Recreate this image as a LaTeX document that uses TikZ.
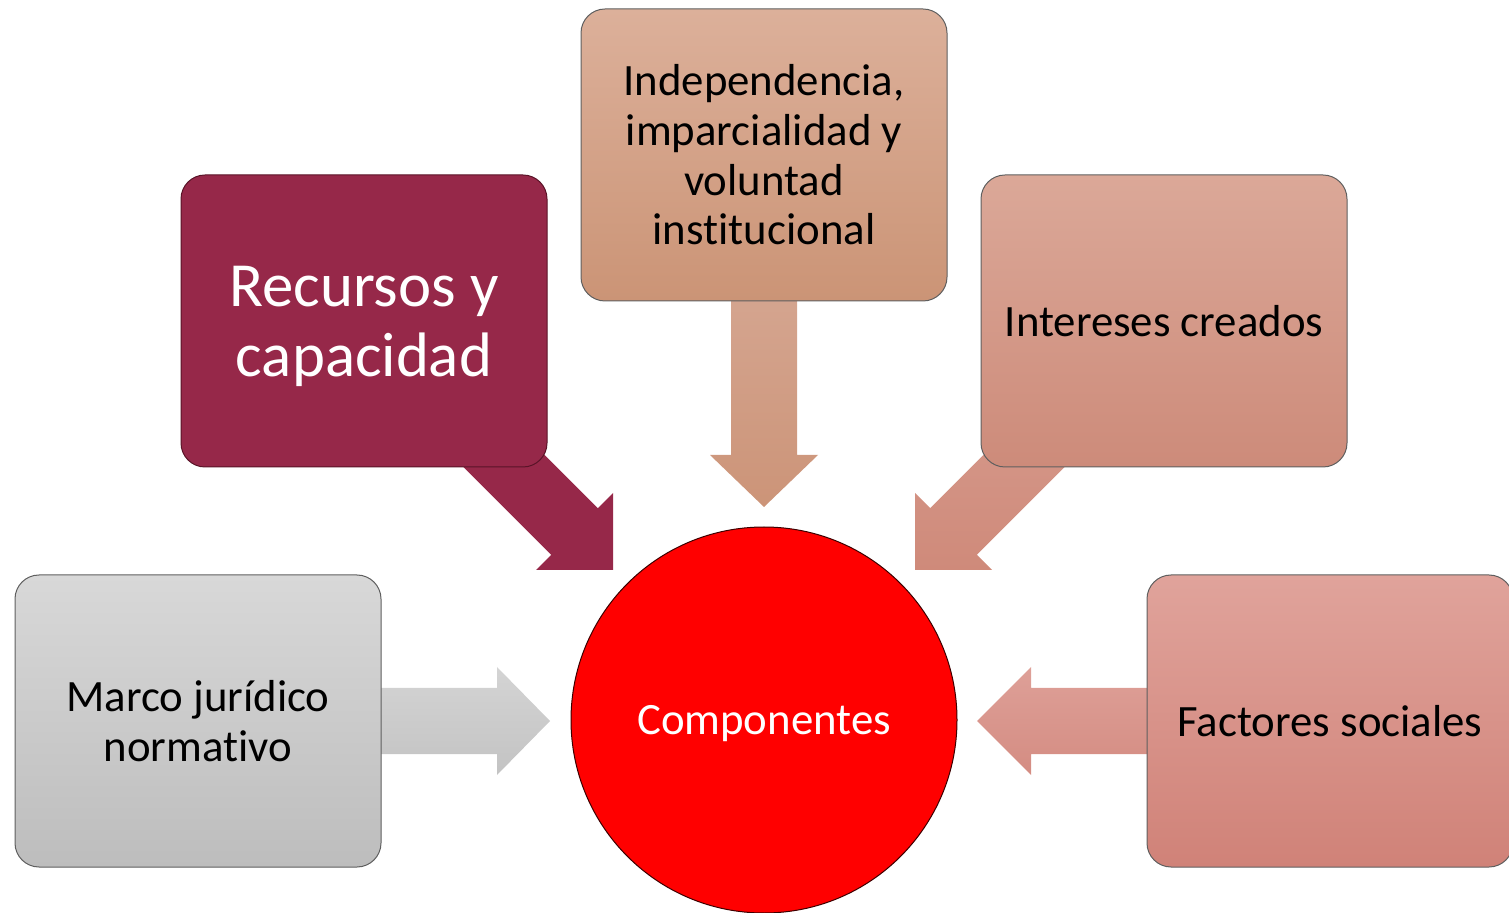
\documentclass[tikz,border=0pt]{standalone}
\usepackage{fontspec}
\setmainfont{Carlito}[RawFeature=-liga]
\begin{document}
\begin{tikzpicture}[x=0.5pt,y=-0.5pt,
  boxbase/.style={rectangle, rounded corners=12pt, minimum width=183pt, minimum height=146pt,
    inner sep=4pt, align=center, draw={rgb,255:red,95;green,95;blue,95}, line width=0.5pt,
    font=\fontsize{22.4}{24.8}\selectfont, text=black}
]
\definecolor{recC}{HTML}{962849}
\definecolor{indT}{HTML}{DCB09A}
\definecolor{indB}{HTML}{CB9476}
\definecolor{intT}{HTML}{DBA898}
\definecolor{intB}{HTML}{CD8B7A}
\definecolor{marT}{HTML}{D8D8D8}
\definecolor{marB}{HTML}{BDBDBD}
\definecolor{facT}{HTML}{E0A39B}
\definecolor{facB}{HTML}{D08278}
\useasboundingbox (0,0) rectangle (1509,913);
\begin{scope}
\clip (0,0) rectangle (1509,913);
% arrows (drawn first, behind boxes)
\coordinate (tipRec) at (613,570);
\coordinate (tipInd) at (764,507);
\coordinate (tipInt) at (915,570);
\coordinate (tipMar) at (550,721);
\coordinate (tipFac) at (977,721);
\fill[recC] (503.3,413.7) -- (597.8,508.2) -- (613,493) -- (tipRec) -- (536,570) -- (551.2,554.8) -- (456.7,460.3) -- cycle;
\shade[top color={rgb,255:red,213;green,166;blue,145}, bottom color={rgb,255:red,204;green,148;blue,120}]
  (731,280) -- (797,280) -- (797,455) -- (818,455) -- (tipInd) -- (710,455) -- (731,455) -- cycle;
\shade[top color={rgb,255:red,213;green,152;blue,138}, bottom color={rgb,255:red,207;green,138;blue,122}]
  (1024.7,413.7) -- (930.2,508.2) -- (915,493) -- (tipInt) -- (992,570) -- (976.8,554.8) -- (1071.3,460.3) -- cycle;
\shade[top color={rgb,255:red,212;green,212;blue,212}, bottom color={rgb,255:red,195;green,195;blue,195}]
  (360,688) -- (497,688) -- (497,667) -- (tipMar) -- (497,775) -- (497,754) -- (360,754) -- cycle;
\shade[top color={rgb,255:red,222;green,160;blue,152}, bottom color={rgb,255:red,212;green,140;blue,130}]
  (1170,688) -- (1031,688) -- (1031,667) -- (tipFac) -- (1031,775) -- (1031,754) -- (1170,754) -- cycle;
% boxes
\node[boxbase, fill=recC, draw={rgb,255:red,90;green,20;blue,40}, text=white,
  font=\fontsize{31.4}{35}\selectfont, text depth=0pt] (rec) at (364,321) {Recursos y\\capacidad};
\node[boxbase, top color=indT, bottom color=indB] (ind) at (764,155)
  {Independencia,\\imparcialidad y\\voluntad\\institucional};
\node[boxbase, top color=intT, bottom color=intB] (int) at (1164,321) {Intereses creados};
\node[boxbase, top color=marT, bottom color=marB] (mar) at (198,721) {Marco jurídico\\normativo};
\node[boxbase, top color=facT, bottom color=facB] (fac) at (1330,721) {Factores sociales};
% center circle
\node[circle, minimum size=193pt, inner sep=0pt, fill=red, draw={rgb,255:red,60;green,0;blue,0},
  line width=0.5pt, text=white, font=\fontsize{22.4}{24.8}\selectfont] (comp) at (764,720) {};
\node[text=white, font=\fontsize{22.4}{24.8}\selectfont, text depth=0pt, inner sep=0pt] (compl) at (comp.center) {Componentes};
\end{scope}
\end{tikzpicture}
\end{document}
